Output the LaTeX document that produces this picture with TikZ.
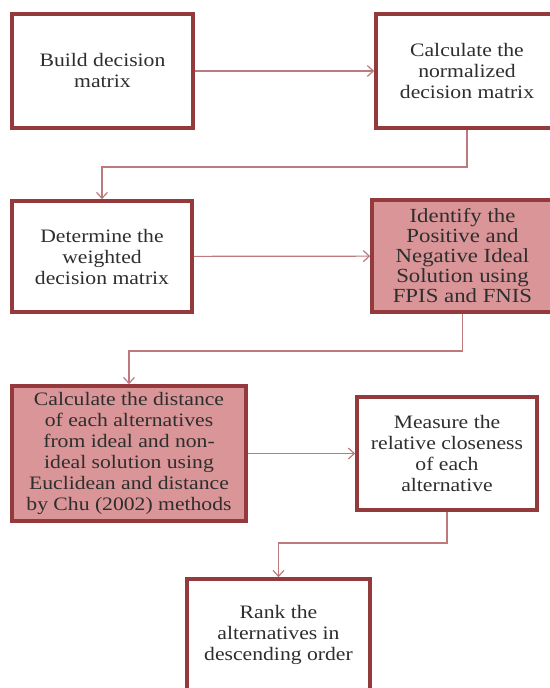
\documentclass[tikz,border=0pt]{standalone}
\usepackage{fontspec}
\setmainfont[FakeStretch=1.14]{Liberation Serif}
\usetikzlibrary{arrows.meta,shadows}
\definecolor{boxborder}{HTML}{953A3C}
\definecolor{boxfill}{HTML}{D99597}
\definecolor{linkcol}{HTML}{BC7A7C}
\definecolor{txt}{HTML}{2E2E2E}
\tikzset{
  stepbox/.style={draw=boxborder, line width=3.6pt, fill=white, align=center,
    inner sep=0pt, text=txt, font=\fontsize{19}{21}\selectfont,
    drop shadow={shadow xshift=1.5pt, shadow yshift=-1.5pt, opacity=0.35}},
  hotbox/.style={stepbox, fill=boxfill},
  link/.style={draw=linkcol, line width=1.2pt, -{Straight Barb[length=6pt,width=11pt]}}
}
\begin{document}
\begin{tikzpicture}[x=1pt,y=-1pt]
\useasboundingbox (0,0) rectangle (549,688);
\node[stepbox, minimum width=181pt, minimum height=114pt] (b1) at (102.5,71)
  {Build decision\\matrix};
\node[stepbox, minimum width=182pt, minimum height=114pt] (b2) at (467,71)
  {Calculate the\\normalized\\decision matrix};
\node[stepbox, minimum width=180pt, minimum height=111pt] (b3) at (102,256.5)
  {Determine the\\weighted\\decision matrix};
\node[hotbox, minimum width=181pt, minimum height=112pt, font=\fontsize{20}{20}\selectfont] (b4) at (462.5,256)
  {Identify the\\Positive and\\Negative Ideal\\Solution using\\FPIS and FNIS};
\node[hotbox, minimum width=234pt, minimum height=135pt] (b5) at (129,453.5)
  {Calculate the distance\\of each alternatives\\from ideal and non-\\ideal solution using\\Euclidean and distance\\by Chu (2002) methods};
\node[stepbox, minimum width=180pt, minimum height=113pt] (b6) at (447,453.5)
  {Measure the\\relative closeness\\of each\\alternative};
\node[stepbox, minimum width=183pt, minimum height=111pt] (b7) at (278.5,634.5)
  {Rank the\\alternatives in\\descending order};
\coordinate (k1) at (467,167);
\coordinate (k2) at (462.5,351);
\coordinate (k3) at (447,543);
\draw[link] (b1) -- (b2);
\draw[link] (b2.south) -- (k1) -| (b3.north);
\draw[link] (b3) -- (b4);
\draw[link] (b4.south) -- (k2) -| (b5.north);
\draw[link] (b5) -- (b6);
\draw[link] (b6.south) -- (k3) -| (b7.north);
\end{tikzpicture}
\end{document}
